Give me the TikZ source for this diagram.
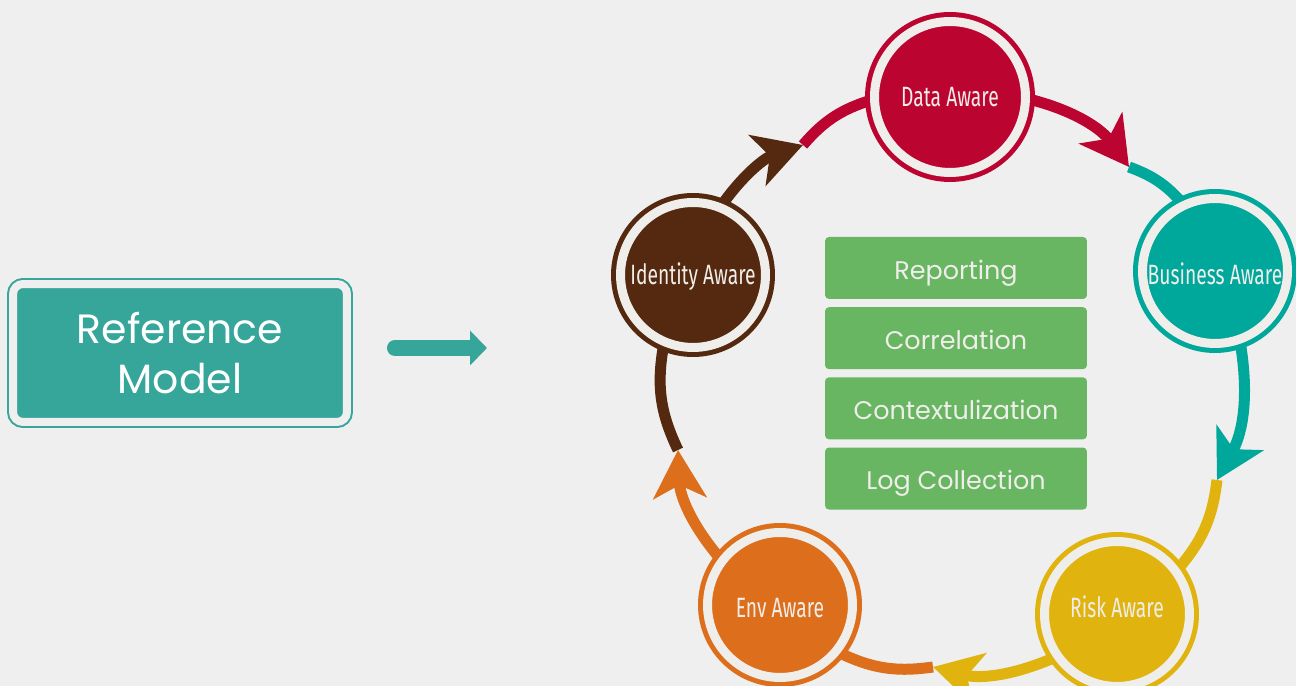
\documentclass[tikz,border=0pt]{standalone}
\usepackage{fontspec}
\setmainfont{Poppins}
\newfontfamily\oswald[FakeStretch=0.69]{Fira Sans}
\usetikzlibrary{arrows.meta,positioning,backgrounds}

\definecolor{pagebg}{HTML}{EFEFEF}
\definecolor{refteal}{HTML}{36A69B}
\definecolor{datared}{HTML}{BC0430}
\definecolor{busteal}{HTML}{00A79B}
\definecolor{riskyel}{HTML}{E0B30E}
\definecolor{envorange}{HTML}{DD6E1B}
\definecolor{idbrown}{HTML}{55290F}
\definecolor{boxgreen}{HTML}{68B562}
\definecolor{ringlight}{HTML}{F0EEEA}

\begin{document}
\begin{tikzpicture}[x=0.02cm, y=0.02cm, node distance=0.15cm,
    aware/.style={circle, draw=#1, fill=#1, line width=0.1cm, double=ringlight, double distance=0.18cm,
        minimum size=2.9cm, inner sep=0pt, text=ringlight, text height=11pt, text depth=0pt,
        font=\oswald\fontsize{15.9}{19}\selectfont},
    blockbox/.style={fill=boxgreen, rounded corners=0.08cm, minimum width=5.24cm, minimum height=1.24cm,
        inner sep=0pt, text=ringlight, text height=12.8pt, text depth=0pt, font=\fontsize{14.5}{17}\selectfont},
    refbox/.style={fill=refteal, draw=refteal, line width=0.04cm, double=pagebg, double distance=0.16cm,
        rounded corners=0.2cm, minimum width=6.68cm, minimum height=2.76cm, align=center,
        text=white, font=\fontsize{23.3}{28}\selectfont},
    ring/.style={draw=#1, line width=0.22cm},
    ringtip/.style={-{Stealth[length=0.96cm, width=1.06cm, inset=0.26cm]}},
    refarrow/.style={draw=refteal, line width=0.32cm, line cap=round, -{Triangle[length=0.34cm, width=0.68cm]}}]
    \useasboundingbox (0,0) rectangle (1296,686);

    % left side
    \node[refbox] (ref) at (180,333) {Reference\\Model};
    \coordinate (go) at (487,338);
    \draw[refarrow, shorten <=0.94cm] (ref.east |- go) -- (go);

    % the five stages
    \node[aware=datared, minimum size=3.02cm] (data) at (950,589) {Data Aware};
    \node[aware=busteal, text height=15.5pt] (business) at (1215,415) {Business Aware};
    \node[aware=riskyel, text height=4.2pt] (risk) at (1117,72) {Risk Aware};
    \node[aware=envorange, text height=13.8pt] (env) at (780,81) {Env Aware};
    \node[aware=idbrown] (identity) at (693,411) {Identity Aware};

    % layers in the middle
    \node[blockbox] (rep) at (956,418) {Reporting};
    \node[blockbox, below=of rep] (cor) {Correlation};
    \node[blockbox, below=of cor] (ctx) {Contextulization};
    \node[blockbox, below=of ctx] (log) {Log Collection};

    \coordinate (t1) at (1129,519);
    \coordinate (t2) at (1217,206);
    \coordinate (t3) at (933,19);
    \coordinate (t4) at (678,236);
    \coordinate (t5) at (803,541);

    \begin{pgfonlayer}{background}
        \fill[pagebg] (0,0) rectangle (1296,686);

        \draw[ring=busteal] (t1) to[bend left=14] (business);
        \draw[ring=datared, ringtip] (data) to[bend left=20] (t1);

        \draw[ring=riskyel] (t2) to[bend left=17] (risk);
        \draw[ring=busteal, ringtip] (business) to[bend left=19] (t2);

        \draw[ring=envorange] (t3) to[bend left=17] (env);
        \draw[ring=riskyel, ringtip] (risk) to[bend left=19] (t3);

        \draw[ring=idbrown] (t4) to[bend left=18] (identity);
        \draw[ring=envorange, ringtip] (env) to[bend left=19] (t4);

        \draw[ring=datared] (t5) to[bend left=16] (data);
        \draw[ring=idbrown, ringtip] (identity) to[bend left=18] (t5);
    \end{pgfonlayer}
\end{tikzpicture}
\end{document}
